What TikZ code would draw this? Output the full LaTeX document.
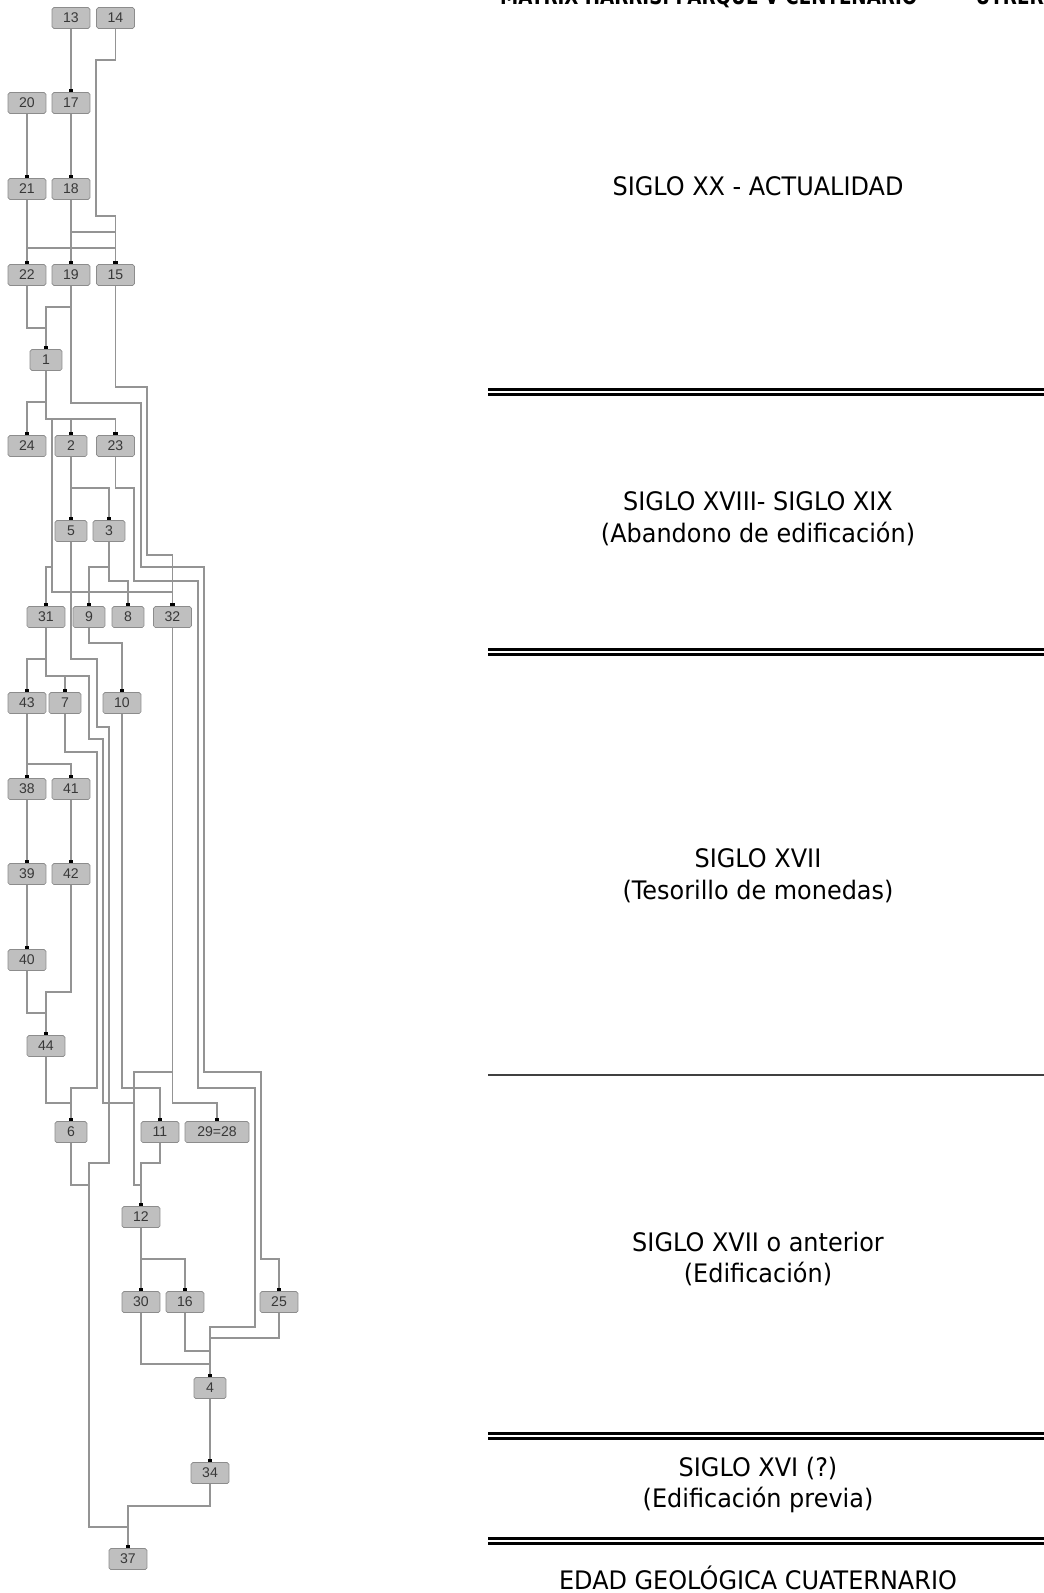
\documentclass[tikz,border=0pt]{standalone}
\usepackage{fontspec}
\newfontfamily\unitfont{Liberation Sans}
\newfontfamily\periodfont[FakeStretch=0.94]{DejaVu Sans}
\newfontfamily\titlefont[FakeStretch=0.8]{DejaVu Sans}
\usepackage{tikz}
\usetikzlibrary{positioning}
\usetikzlibrary{arrows.meta}

\begin{document}
\begin{tikzpicture}[x=0.02cm, y=-0.02cm,
    unit/.style={rectangle, draw=black!45, fill=black!25, rounded corners=1pt,
        minimum width=0.76cm, minimum height=0.42cm, inner sep=0pt,
        font=\unitfont\fontsize{8}{9}\selectfont, text=black!78},
    narrow/.style={unit, minimum width=0.64cm},
    wide/.style={unit, minimum width=1.28cm},
    link/.style={draw=black!42, line width=0.65pt,
        -{Rectangle[length=1.7pt, width=2.5pt, color=black]}},
    period/.style={align=center, font=\periodfont\fontsize{14.5}{18}\selectfont},
    rule/.style={line width=1.4pt, double, double distance=1.5pt}]
    \useasboundingbox (0,0) rectangle (1044,1593);

    % units
    \path
        node (n13) at (71,18)    [unit] {13}
        node (n14) at (115.5,18) [unit] {14}
        node (n20) at (27,103)   [unit] {20}
        node (n17) at (71,103)   [unit] {17}
        node (n21) at (27,189)   [unit] {21}
        node (n18) at (71,189)   [unit] {18}
        node (n22) at (27,275)   [unit] {22}
        node (n19) at (71,275)   [unit] {19}
        node (n15) at (115.5,275) [unit] {15}
        node (n1)  at (46,360)   [narrow] {1}
        node (n24) at (27,446)   [unit] {24}
        node (n2)  at (71,446)   [narrow] {2}
        node (n23) at (115.5,446) [unit] {23}
        node (n5)  at (71,531)   [narrow] {5}
        node (n3)  at (109,531)  [narrow] {3}
        node (n31) at (46,617)   [unit] {31}
        node (n9)  at (89,617)   [narrow] {9}
        node (n8)  at (128,617)  [narrow] {8}
        node (n32) at (172.5,617) [unit] {32}
        node (n43) at (27,703)   [unit] {43}
        node (n7)  at (65,703)   [narrow] {7}
        node (n10) at (122,703)  [unit] {10}
        node (n38) at (27,789)   [unit] {38}
        node (n41) at (71,789)   [unit] {41}
        node (n39) at (27,874)   [unit] {39}
        node (n42) at (71,874)   [unit] {42}
        node (n40) at (27,960)   [unit] {40}
        node (n44) at (46,1046)  [unit] {44}
        node (n6)  at (71,1132)  [narrow] {6}
        node (n11) at (160,1132) [unit] {11}
        node (n28) at (217,1132) [wide] {29=28}
        node (n12) at (141,1217) [unit] {12}
        node (n30) at (141,1302) [unit] {30}
        node (n16) at (185,1302) [unit] {16}
        node (n25) at (279,1302) [unit] {25}
        node (n4)  at (210,1388) [narrow] {4}
        node (n34) at (210,1473) [unit] {34}
        node (n37) at (128,1559) [unit] {37};

    % relations
    \draw[link] (n13.south) -- (n17.north);
    \draw[link] (n14.south) |- (96,60) |- (115.5,216) -- (n15.north);
    \draw[link] (n20.south) -- (n21.north);
    \draw[link] (n17.south) -- (n18.north);
    \draw[link] (n18.south) -- (n19.north);
    \draw[link] (n18.south) |- (115.5,232) -- (n15.north);
    \draw[link] (n21.south) -- (n22.north);
    \draw[link] (n21.south) |- (115.5,248) -- (n15.north);
    \draw[link] (n22.south) |- (46,328) -- (n1.north);
    \draw[link] (n19.south) |- (46,307) -- (n1.north);
    \draw[link] (n19.south) |- (141,403) |- (204,567) |- (261,1072) |- (279,1259) -- (n25.north);
    \draw[link] (n15.south) |- (147,387) |- (172.5,555) -- (n32.north);
    \draw[link] (n1.south) |- (27,402) -- (n24.north);
    \draw[link] (n1.south) |- (71,419) -- (n2.north);
    \draw[link] (n1.south) |- (115.5,419) -- (n23.north);
    \draw[link] (n1.south) |- (52,419) |- (46,567) -- (n31.north);
    \draw[link] (n1.south) |- (52,419) |- (172.5,592) -- (n32.north);
    \draw[link] (n2.south) -- (n5.north);
    \draw[link] (n2.south) |- (109,488) -- (n3.north);
    \draw[link] (n23.south) |- (134,488) |- (198,581) |- (255,1088) |- (210,1327) -- (n4.north);
    \draw[link] (n3.south) |- (89,567) -- (n9.north);
    \draw[link] (n3.south) |- (128,581) -- (n8.north);
    \draw[link] (n5.south) |- (97,659) |- (109,727) |- (89,1163) |- (128,1527) -- (n37.north);
    \draw[link] (n31.south) |- (27,659) -- (n43.north);
    \draw[link] (n31.south) |- (65,676) -- (n7.north);
    \draw[link] (n31.south) |- (89,676) |- (103,739) |- (134,1103) |- (141,1185) -- (n12.north);
    \draw[link] (n9.south) |- (122,643) -- (n10.north);
    \draw[link] (n43.south) -- (n38.north);
    \draw[link] (n43.south) |- (71,764) -- (n41.north);
    \draw[link] (n7.south) |- (97,752) |- (71,1088) -- (n6.north);
    \draw[link] (n10.south) |- (160,1088) -- (n11.north);
    \draw[link] (n32.south) |- (217,1103) -- (n28.north);
    \draw[link] (n32.south) |- (134,1072) |- (141,1185) -- (n12.north);
    \draw[link] (n38.south) -- (n39.north);
    \draw[link] (n41.south) -- (n42.north);
    \draw[link] (n39.south) -- (n40.north);
    \draw[link] (n40.south) |- (46,1013) -- (n44.north);
    \draw[link] (n42.south) |- (46,992) -- (n44.north);
    \draw[link] (n44.south) |- (71,1103) -- (n6.north);
    \draw[link] (n6.south) |- (89,1185) |- (128,1527) -- (n37.north);
    \draw[link] (n11.south) |- (141,1163) -- (n12.north);
    \draw[link] (n12.south) -- (n30.north);
    \draw[link] (n12.south) |- (185,1259) -- (n16.north);
    \draw[link] (n16.south) |- (210,1351) -- (n4.north);
    \draw[link] (n25.south) |- (210,1338) -- (n4.north);
    \draw[link] (n30.south) |- (210,1364) -- (n4.north);
    \draw[link] (n4.south) -- (n34.north);
    \draw[link] (n34.south) |- (128,1506) -- (n37.north);

    % periods
    \node (title) at (494,4) [anchor=base west, font=\titlefont\bfseries\fontsize{13}{16}\selectfont]
        {MATRIX HARRIS. PARQUE V CENTENARIO\hspace{14pt}–\hspace{14pt}UTRERA};
    \path
        node (xx)    at (758,186)  [period] {SIGLO XX - ACTUALIDAD}
        node (xviii) at (758,519)  [period] {SIGLO XVIII- SIGLO XIX\\(Abandono de edificación)}
        node (xvii)  at (758,876)  [period] {SIGLO XVII\\(Tesorillo de monedas)}
        node (xviia) at (758,1259) [period] {SIGLO XVII o anterior\\(Edificación)}
        node (xvi)   at (758,1485) [period] {SIGLO XVI (?)\\(Edificación previa)}
        node (geo)   at (758,1578) [period] {EDAD GEOLÓGICA CUATERNARIO};
    \draw[rule] (488,392) -- (1044,392);
    \draw[rule] (488,652) -- (1044,652);
    \draw[black!75, line width=0.6pt] (488,1075) -- (1044,1075);
    \draw[rule] (488,1436) -- (1044,1436);
    \draw[rule] (488,1541) -- (1044,1541);
\end{tikzpicture}
\end{document}
